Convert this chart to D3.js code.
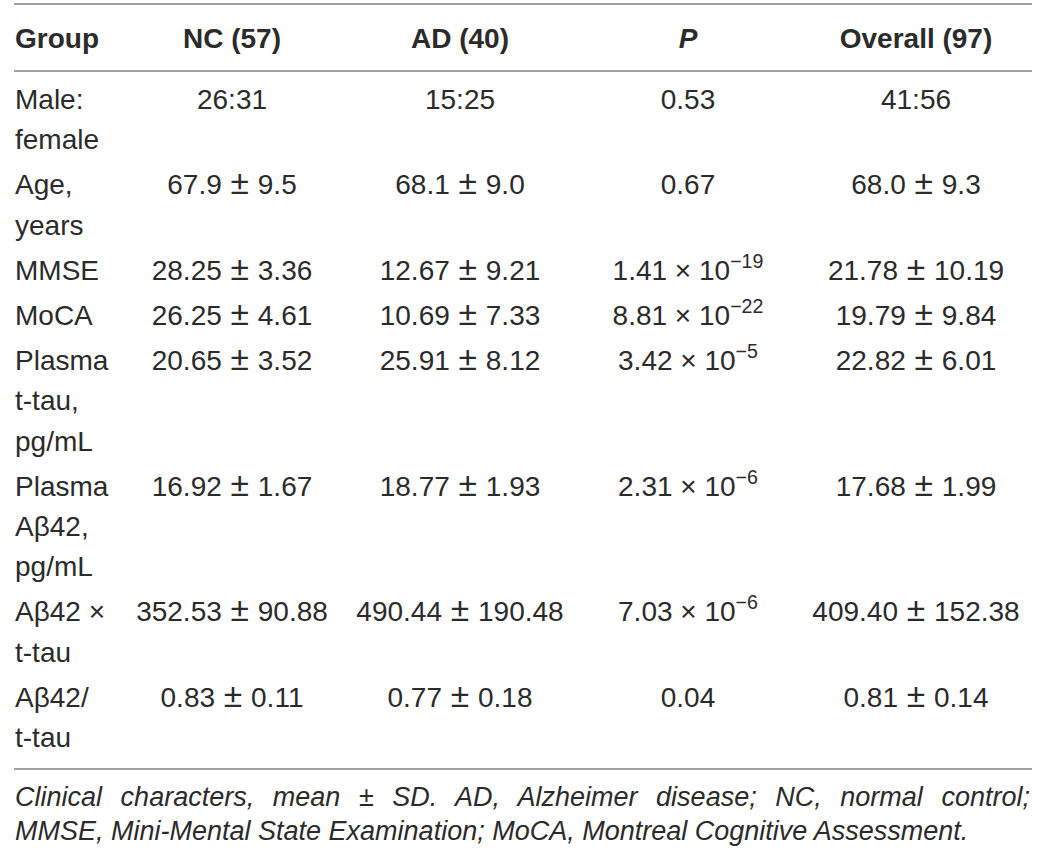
<!DOCTYPE html>
<html>
<head>
<meta charset="utf-8">
<script src="https://cdn.jsdelivr.net/npm/d3@7"></script>
<style>
  html, body { margin: 0; padding: 0; background: #fff; }
  svg { display: block; }
  text { font-family: "Liberation Sans", Arial, Helvetica, sans-serif; fill: #2b2b2b; }
</style>
</head>
<body>
<div id="chart"></div>
<script>
// ---- data ----
const headerLabels = ["Group", "NC (57)", "AD (40)", "P", "Overall (97)"];
const dataColumns = ["NC (57)", "AD (40)", "P", "Overall (97)"];
const rowLabels = [
  ["Male:", "female"],
  ["Age,", "years"],
  ["MMSE"],
  ["MoCA"],
  ["Plasma", "t-tau,", "pg/mL"],
  ["Plasma", "Aβ42,", "pg/mL"],
  ["Aβ42 ×", "t-tau"],
  ["Aβ42/", "t-tau"]
];
const ncValues = ["26:31", "67.9 ± 9.5", "28.25 ± 3.36", "26.25 ± 4.61", "20.65 ± 3.52", "16.92 ± 1.67", "352.53 ± 90.88", "0.83 ± 0.11"];
const adValues = ["15:25", "68.1 ± 9.0", "12.67 ± 9.21", "10.69 ± 7.33", "25.91 ± 8.12", "18.77 ± 1.93", "490.44 ± 190.48", "0.77 ± 0.18"];
const pMantissa = ["0.53", "0.67", "1.41 × 10", "8.81 × 10", "3.42 × 10", "2.31 × 10", "7.03 × 10", "0.04"];
const pExponent = ["", "", "−19", "−22", "−5", "−6", "−6", ""];
const overallValues = ["41:56", "68.0 ± 9.3", "21.78 ± 10.19", "19.79 ± 9.84", "22.82 ± 6.01", "17.68 ± 1.99", "409.40 ± 152.38", "0.81 ± 0.14"];
const captionLine1 = "Clinical characters, mean ± SD. AD, Alzheimer disease; NC, normal control;";
const captionLine2 = "MMSE, Mini-Mental State Examination; MoCA, Montreal Cognitive Assessment.";

// ---- layout ----
const W = 1037, H = 853;
const left = 14, right = 1032;
const fs = 28, hfs = 28;
const svg = d3.select("#chart").append("svg").attr("width", W).attr("height", H);

const x = d3.scalePoint().domain(dataColumns).range([232, 916]);

const rows = rowLabels.map((lab, i) => ({
  labels: lab,
  values: [ncValues[i], adValues[i], null, overallValues[i]],
  pm: pMantissa[i], pe: pExponent[i], idx: i
}));
let acc = 0;
rows.forEach(r => { r.line0 = acc; acc += r.labels.length; });
const lineH = 40.2, rowPad = 5.0, firstBase = 109;
const yLine = d3.scaleLinear().domain([0, 1]).range([firstBase, firstBase + lineH]);
const yRow = (r, k) => yLine(r.line0 + k) + r.idx * rowPad;

const lastRow = rows[rows.length - 1];
const bottomLineY = yRow(lastRow, lastRow.labels.length - 1) + 22;

// rules
const rules = [4, 71, bottomLineY];
svg.selectAll("line.rule").data(rules).join("line")
  .attr("class", "rule")
  .attr("x1", left).attr("x2", right)
  .attr("y1", d => d).attr("y2", d => d)
  .attr("stroke", "#a0a0a0").attr("stroke-width", 2);

// header
const hdr = svg.append("g").attr("font-weight", "bold").attr("font-size", hfs);
hdr.append("text").attr("x", 15).attr("y", 48).text(headerLabels[0]);
hdr.selectAll("text.h").data(dataColumns).join("text")
  .attr("class", "h")
  .attr("x", d => x(d)).attr("y", 48)
  .attr("text-anchor", "middle")
  .attr("font-style", d => d === "P" ? "italic" : null)
  .text(d => d);

// value text with a larger ± glyph, as in the reference typesetting
function writeValue(t, s) {
  const parts = s.split(" ± ");
  if (parts.length === 2) {
    t.append("tspan").text(parts[0] + " ");
    t.append("tspan").attr("dx", 1).attr("font-size", fs * 1.2).text("±");
    t.append("tspan").attr("dx", 1).text(" " + parts[1]);
  } else {
    t.text(s);
  }
}

// body
const g = svg.append("g").attr("font-size", fs);
const rowG = g.selectAll("g.row").data(rows).join("g").attr("class", "row");
rowG.selectAll("text.lab").data(r => r.labels.map((l, k) => ({ l, y: yRow(r, k) })))
  .join("text").attr("class", "lab")
  .attr("x", 15).attr("y", d => d.y).text(d => d.l);

rowG.each(function (r) {
  const sel = d3.select(this);
  const y0 = yRow(r, 0);
  [0, 1, 3].forEach(ci => {
    const t = sel.append("text").attr("x", x(dataColumns[ci])).attr("y", y0)
      .attr("text-anchor", "middle");
    writeValue(t, r.values[ci]);
  });
  const t = sel.append("text").attr("x", x("P")).attr("y", y0).attr("text-anchor", "middle");
  t.append("tspan").text(r.pm);
  if (r.pe) {
    t.append("tspan").attr("dy", -12).attr("font-size", fs * 0.7).text(r.pe);
  }
});

// caption
const capFs = 27;
const cap = svg.append("g").attr("font-size", capFs).attr("font-style", "italic");
const c1y = bottomLineY + 37, c2y = c1y + 34;
const c1 = cap.append("text").attr("x", 15).attr("y", c1y).text(captionLine1);
const natural = c1.node().getComputedTextLength();
const nGaps = captionLine1.split(" ").length - 1;
const target = 1030 - 15;
c1.attr("word-spacing", Math.max(0, (target - natural) / nGaps));
const c2 = cap.append("text").attr("x", 15).attr("y", c2y).text(captionLine2);
</script>
</body>
</html>
